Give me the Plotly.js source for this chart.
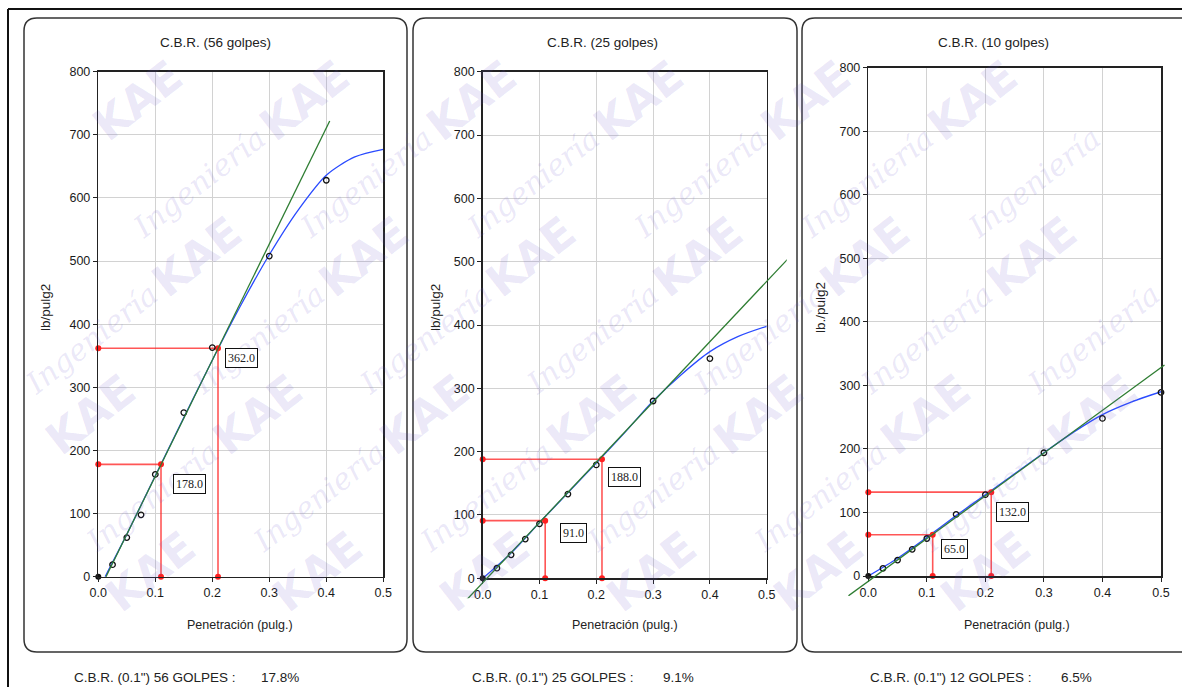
<!DOCTYPE html>
<html><head><meta charset="utf-8">
<script src="https://cdn.plot.ly/plotly-3.0.1.min.js"></script>
<style>html,body{margin:0;padding:0;background:#fff;}#chart{width:1182px;height:687px;}</style>
</head><body><div id="chart"></div>
<script>
// ---------------- DATA ----------------
const penetration = [0, 0.025, 0.05, 0.075, 0.1, 0.15, 0.2, 0.3, 0.4, 0.5];
const load56 = [0, 19, 62, 98, 162, 260, 363, 508, 628, null];
const load25 = [0, 16, 37, 62, 86, 133, 179, 280, 347, null];
const load10 = [0, 12, 25, 42, 59, 97, 128, 194, 248, 289];

const curveX56 = [0.012, 0.05, 0.1, 0.15, 0.2, 0.25, 0.3, 0.35, 0.4, 0.45, 0.5];
const curve56  = [0, 67, 160, 252, 343, 430, 510, 580, 636, 665, 677];
const curveX25 = [0, 0.05, 0.1, 0.15, 0.2, 0.25, 0.3, 0.35, 0.4, 0.45, 0.5];
const curve25  = [0, 40, 88, 135, 182, 230, 280, 322, 358, 382, 398];
const curveX10 = [0, 0.05, 0.1, 0.15, 0.2, 0.25, 0.3, 0.35, 0.4, 0.45, 0.5];
const curve10  = [0, 28, 61, 95, 128, 161, 194, 226, 254, 274, 290];

const tangentX56 = [0.0135, 0.406];
const tangent56  = [0, 722];
const tangentX25 = [-0.032, 0.539];
const tangent25  = [-37.5, 506];
const tangentX10 = [-0.044, 0.506];
const tangent10  = [-38, 332];

const readX = [0.11, 0.21];
const read56 = [178, 362];
const read25 = [91, 188];
const read10 = [65, 132];

const titles = ['C.B.R. (56 golpes)', 'C.B.R. (25 golpes)', 'C.B.R. (10 golpes)'];
const xTitle = 'Penetración (pulg.)';
const yTitles = ['lb/pulg2', 'lb/pulg2', 'lb./pulg2'];
const cbrLabels = ['C.B.R. (0.1") 56 GOLPES :', 'C.B.R. (0.1") 25 GOLPES :', 'C.B.R. (0.1") 12 GOLPES :'];
const cbrValues = ['17.8%', '9.1%', '6.5%'];

// ---------------- LAYOUT GEOMETRY (pixels) ----------------
const W = 1182, H = 687;
const fx = p => p / W;
const fy = p => 1 - p / H;

const panels = [
  {x0: 98.3, x1: 383.3, y0: 71.7, y1: 576.7, frame: [24, 407], titleX: 215, xtX: 240, ytX: 45, resX: 72, valX: 259,
   pts: load56, cx: curveX56, cy: curve56, tx: tangentX56, ty: tangent56, ry: read56,
   shifts: [[28, -20], [23, -10]]},
  {x0: 482.7, x1: 766.7, y0: 71.7, y1: 578.3, frame: [413, 797], titleX: 602, xtX: 625, ytX: 435, resX: 470, valX: 661,
   pts: load25, cx: curveX25, cy: curve25, tx: tangentX25, ty: tangent25, ry: read25,
   shifts: [[28, -12], [23, -18]]},
  {x0: 868.3, x1: 1161, y0: 67.7, y1: 576, frame: [802, 1195], titleX: 993, xtX: 1017, ytX: 820, resX: 868, valX: 1059,
   pts: load10, cx: curveX10, cy: curve10, tx: tangentX10, ty: tangent10, ry: read10,
   shifts: [[22, -14], [21, -19.5]]}
];

const FONT = 'Liberation Sans, Arial, sans-serif';
const traces = [];
const annotations = [];
const shapes = [];
const layout = {
  width: W, height: H, margin: {l: 0, r: 0, t: 0, b: 0},
  paper_bgcolor: '#fff', plot_bgcolor: 'rgba(0,0,0,0)', showlegend: false,
  font: {family: FONT, color: '#222'}
};

function paperText(x, y, text, size, extra) {
  return Object.assign({xref: 'paper', yref: 'paper', x: fx(x), y: fy(y), text: text, showarrow: false,
    xanchor: 'center', yanchor: 'middle', font: {family: FONT, size: size, color: '#222'}}, extra || {});
}

// watermark (decorative text)
const wmColor = 'rgba(105,85,205,0.14)';
for (let j = 0; j <= 3; j++) {
  const yc = 100 + j * 157;
  let xs = ((137 + 60 * j) % 167 + 167) % 167;
  for (let x = xs; x < W - 60; x += 167) {
    if (x > 45) annotations.push(paperText(x, yc, '<b>KAE</b>', 44, {textangle: -38,
      font: {family: 'DejaVu Sans, sans-serif', size: 44, color: wmColor}}));
    if (x + 62 < W - 70 && yc + 82 < H - 40) annotations.push(paperText(x + 62, yc + 82, '<i>Ingeniería</i>', 30, {textangle: -38,
      font: {family: 'DejaVu Serif, serif', size: 30, color: wmColor}}));
  }
}

// outer border
shapes.push({type: 'line', xref: 'paper', yref: 'paper', x0: fx(8), x1: fx(1190), y0: fy(9), y1: fy(9), line: {color: '#111', width: 2}});
shapes.push({type: 'line', xref: 'paper', yref: 'paper', x0: fx(8), x1: fx(8), y0: fy(9), y1: fy(700), line: {color: '#111', width: 2}});

panels.forEach((p, i) => {
  const n = i + 1, m = i + 4;
  const xa = 'xaxis' + (n === 1 ? '' : n), ya = 'yaxis' + (n === 1 ? '' : n);
  const xr = 'x' + (n === 1 ? '' : n), yr = 'y' + (n === 1 ? '' : n);
  // rounded frame
  const L = p.frame[0], R = p.frame[1], T = 18, B = 652, r = 13;
  const path = `M ${fx(L + r)} ${fy(T)} L ${fx(R - r)} ${fy(T)} Q ${fx(R)} ${fy(T)} ${fx(R)} ${fy(T + r)} L ${fx(R)} ${fy(B - r)} Q ${fx(R)} ${fy(B)} ${fx(R - r)} ${fy(B)} L ${fx(L + r)} ${fy(B)} Q ${fx(L)} ${fy(B)} ${fx(L)} ${fy(B - r)} L ${fx(L)} ${fy(T + r)} Q ${fx(L)} ${fy(T)} ${fx(L + r)} ${fy(T)} Z`;
  shapes.push({type: 'path', xref: 'paper', yref: 'paper', path: path, line: {color: '#333', width: 1.5}, layer: 'below'});

  const axCommon = {showgrid: true, gridcolor: '#d2d2d2', gridwidth: 1, zeroline: false, showline: true, mirror: true,
    linecolor: '#222', linewidth: 1.5, ticks: 'outside', ticklen: 4, tickcolor: '#222',
    tickfont: {family: FONT, size: 12.5, color: '#1a1a1a'}, fixedrange: true};
  layout[xa] = Object.assign({domain: [fx(p.x0), fx(p.x1)], range: [0, 0.5], dtick: 0.1, tick0: 0, tickformat: '.1f', anchor: yr}, axCommon);
  layout[ya] = Object.assign({domain: [fy(p.y1), fy(p.y0)], range: [0, 800], dtick: 100, tick0: 0, anchor: xr}, axCommon);

  // overlay axes for tangent line (lets it extend past the plot frame)
  const pad = 20;
  const pxPerX = (p.x1 - p.x0) / 0.5, pxPerY = (p.y1 - p.y0) / 800;
  const xa2 = 'xaxis' + m, ya2 = 'yaxis' + m;
  const right = Math.min(W, p.x1 + pad);
  layout[xa2] = {domain: [fx(p.x0 - pad), fx(right)],
    range: [-pad / pxPerX, 0.5 + (right - p.x1) / pxPerX], anchor: 'y' + m, visible: false, fixedrange: true};
  layout[ya2] = {domain: [fy(p.y1 + pad), fy(p.y0 - pad)],
    range: [-pad / pxPerY, 800 + pad / pxPerY], anchor: 'x' + m, visible: false, fixedrange: true};

  // fitted curve
  traces.push({x: p.cx, y: p.cy, xaxis: xr, yaxis: yr, mode: 'lines', line: {color: '#2a4bff', width: 1.3, shape: 'spline', smoothing: 0.8}, hoverinfo: 'skip'});
  // tangent
  traces.push({x: p.tx, y: p.ty, xaxis: 'x' + m, yaxis: 'y' + m, mode: 'lines', line: {color: '#2e7d32', width: 1.3}, hoverinfo: 'skip'});
  // reading lines
  const rx = [], ryy = [];
  readX.forEach((x, k) => { rx.push(0, x, x, null); ryy.push(p.ry[k], p.ry[k], 0, null); });
  traces.push({x: rx, y: ryy, xaxis: xr, yaxis: yr, mode: 'lines+markers', cliponaxis: false,
    line: {color: 'rgba(255,30,30,0.75)', width: 1.6}, marker: {color: '#ff2020', size: 6}, hoverinfo: 'skip'});
  // data points
  traces.push({x: penetration.slice(1), y: p.pts.slice(1), xaxis: xr, yaxis: yr, mode: 'markers', cliponaxis: false,
    marker: {symbol: 'circle-open', size: 5.5, color: '#111', line: {width: 1.3}}});
  traces.push({x: penetration.slice(0, 1), y: p.pts.slice(0, 1), xaxis: xr, yaxis: yr, mode: 'markers', cliponaxis: false,
    marker: {symbol: 'circle', size: 6, color: '#111'}});

  // value boxes
  readX.forEach((x, k) => {
    annotations.push({xref: xr, yref: yr, x: x, y: p.ry[k], text: p.ry[k].toFixed(1), showarrow: false,
      xanchor: 'center', yanchor: 'middle',
      xshift: p.shifts[k][0], yshift: p.shifts[k][1], bgcolor: '#fff', bordercolor: '#111', borderwidth: 1, borderpad: 2,
      font: {family: 'Liberation Serif, Times New Roman, serif', size: 12, color: '#222'}});
  });

  // texts
  annotations.push(paperText(p.titleX, 43, titles[i], 13.5));
  annotations.push(paperText(p.xtX, 625, xTitle, 12.5));
  annotations.push(paperText(p.ytX, 308, yTitles[i], 13.5, {textangle: -90}));
  annotations.push(paperText(p.resX, 677, cbrLabels[i], 13.5, {xanchor: 'left'}));
  annotations.push(paperText(p.valX, 677, cbrValues[i], 13.5, {xanchor: 'left'}));
});

layout.annotations = annotations;
layout.shapes = shapes;
Plotly.newPlot('chart', traces, layout, {staticPlot: true, displayModeBar: false});
</script>
</body></html>
